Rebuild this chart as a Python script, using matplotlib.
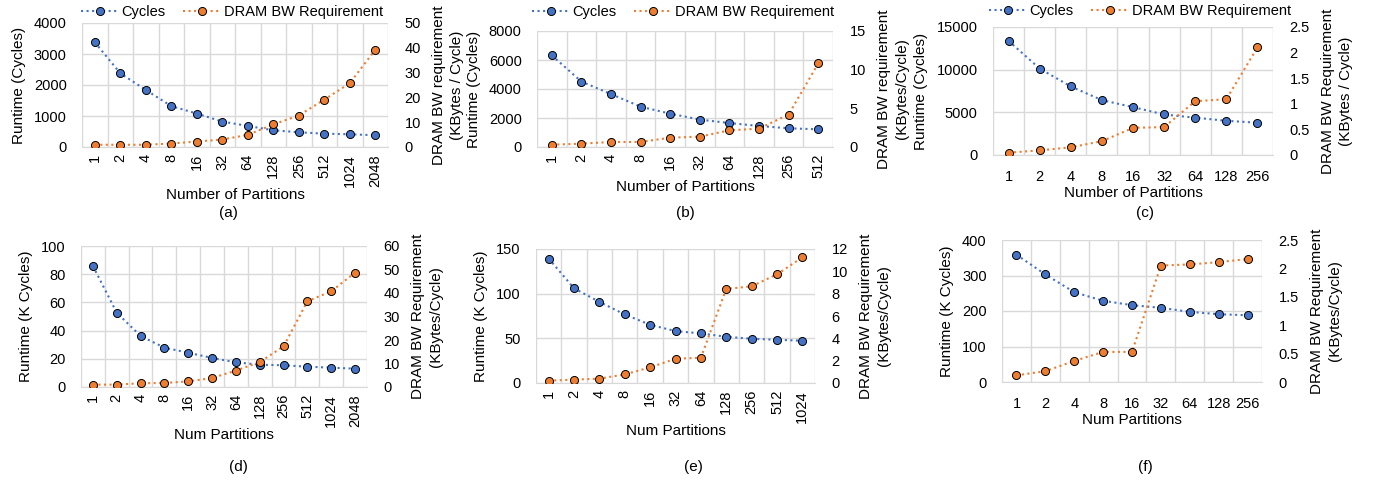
import numpy as np
import matplotlib
matplotlib.use("Agg")
import matplotlib.pyplot as plt
from matplotlib.ticker import FuncFormatter

plt.rcParams['font.family'] = ['Liberation Sans', 'DejaVu Sans']
plt.rcParams['font.size'] = 10

# datos
parts_a = ['1', '2', '4', '8', '16', '32', '64', '128', '256', '512', '1024', '2048']
cyc_a = [3380, 2380, 1840, 1320, 1080, 820, 680, 540, 475, 430, 410, 380]
bw_a = [0.9, 0.9, 0.9, 1.4, 2.2, 3.0, 4.9, 9.1, 12.7, 19.1, 25.7, 39.2]

parts_b = ['1', '2', '4', '8', '16', '32', '64', '128', '256', '512']
cyc_b = [6320, 4510, 3650, 2780, 2300, 1890, 1650, 1450, 1290, 1220]
bw_b = [0.3, 0.43, 0.65, 0.65, 1.2, 1.34, 2.16, 2.37, 4.2, 10.8]

parts_c = ['1', '2', '4', '8', '16', '32', '64', '128', '256']
cyc_c = [13370, 10130, 8030, 6430, 5610, 4750, 4370, 4010, 3780]
bw_c = [0.045, 0.09, 0.15, 0.27, 0.53, 0.545, 1.05, 1.09, 2.1]

parts_d = ['1', '2', '4', '8', '16', '32', '64', '128', '256', '512', '1024', '2048']
cyc_d = [85.8, 52.7, 36.2, 27.9, 24.3, 20.6, 17.5, 15.8, 15.4, 14.4, 13.7, 13.0]
bw_d = [1.0, 1.0, 1.6, 1.7, 2.4, 3.8, 7.0, 10.6, 17.3, 36.5, 40.7, 48.7]

parts_e = ['1', '2', '4', '8', '16', '32', '64', '128', '256', '512', '1024']
cyc_e = [139.3, 106, 90.8, 76.7, 65.2, 58.1, 55.5, 51.8, 49.5, 48.4, 47.3]
bw_e = [0.21, 0.3, 0.39, 0.77, 1.4, 2.17, 2.26, 8.42, 8.66, 9.73, 11.25]

parts_f = ['1', '2', '4', '8', '16', '32', '64', '128', '256']
cyc_f = [358.6, 303, 253, 228.7, 216.5, 209, 197.6, 191, 188]
bw_f = [0.118, 0.19, 0.37, 0.53, 0.53, 2.05, 2.07, 2.11, 2.165]

AZUL = '#4472C4'
NARANJA = '#ED7D31'
GRIS = '#D9D9D9'

W, H = 1375, 487
fig = plt.figure(figsize=(W / 100, H / 100), dpi=100)


def caja(l, r, t, b):
    return [l / W, (H - b) / H, (r - l) / W, (b - t) / H]


fmt = FuncFormatter(lambda v, p: '{:g}'.format(round(v, 6)))


def panel(pos, parts, cyc, bw, ymax, ystep, y2max, y2step, ylab, y2lab, xlab,
          rot, letra, letra_xy, leyenda=None):
    ax = fig.add_axes(pos)
    ax2 = ax.twinx()
    x = np.arange(len(parts))
    l1, = ax.plot(x, cyc, ':', color=AZUL, lw=1.5, marker='o', ms=5.8,
                  mfc=AZUL, mec='black', mew=0.7, label='Cycles')
    l2, = ax2.plot(x, bw, ':', color=NARANJA, lw=1.5, marker='o', ms=5.8,
                   mfc=NARANJA, mec='black', mew=0.7, label='DRAM BW Requirement')
    ax.set_xlim(-0.5, len(parts) - 0.5)
    ax.set_ylim(0, ymax)
    ax2.set_ylim(0, y2max)
    ax.set_yticks(np.arange(0, ymax + ystep / 2, ystep))
    ax2.set_yticks(np.arange(0, y2max + y2step / 2, y2step))
    ax.yaxis.set_major_formatter(fmt)
    ax2.yaxis.set_major_formatter(fmt)
    ax.set_xticks(x)
    ax.set_xticklabels(parts, rotation=rot)
    ax.set_xticks(np.arange(-0.5, len(parts), 1), minor=True)
    ax.grid(True, which='minor', axis='x', color=GRIS, lw=1)
    ax.grid(True, which='major', axis='y', color=GRIS, lw=1)
    ax.set_axisbelow(True)
    for a in (ax, ax2):
        for s in a.spines.values():
            s.set_visible(False)
        a.tick_params(length=0, which='both', labelsize=10.5)
    ax.tick_params(axis='y', pad=11)
    ax2.tick_params(axis='y', pad=12)
    ax.tick_params(axis='x', pad=5 if rot else 11)
    ax.spines['bottom'].set_visible(True)
    ax.spines['bottom'].set_color(GRIS)
    ax.set_ylabel(ylab, fontsize=11, labelpad=6)
    ax2.set_ylabel(y2lab, fontsize=11, labelpad=8, linespacing=1.35)
    ax.set_xlabel(xlab, fontsize=11, labelpad=1)
    fig.text(letra_xy[0] / W, 1 - letra_xy[1] / H, letra, ha='center',
             va='center', fontsize=11)
    if leyenda is not None:
        ax.legend([l1, l2], ['Cycles', 'DRAM BW Requirement'], loc='center',
                  bbox_to_anchor=(leyenda[0] / W, 1 - leyenda[1] / H),
                  bbox_transform=fig.transFigure, ncol=2, frameon=False,
                  fontsize=10.5, handlelength=2.6, columnspacing=1.2,
                  handletextpad=0.2)
    return ax


panel(caja(82, 388, 23, 147), parts_a, cyc_a, bw_a, 4000, 1000, 50, 10,
      'Runtime (Cycles)', 'DRAM BW requirement\n(KBytes / Cycle)',
      'Number of Partitions', 90, '(a)', (228, 213), leyenda=(232, 12))
panel(caja(537, 833, 31, 147), parts_b, cyc_b, bw_b, 8000, 2000, 15, 5,
      'Runtime (Cycles)', 'DRAM BW requirement\n(KBytes/Cycle)',
      'Number of Partitions', 90, '(b)', (685, 213), leyenda=(683, 12))
panel(caja(993, 1273, 27, 155), parts_c, cyc_c, bw_c, 15000, 5000, 2.5, 0.5,
      'Runtime (Cycles)', 'DRAM BW Requirement\n(KBytes / Cycle)',
      'Number of Partitions', 0, '(c)', (1145, 213), leyenda=(1140, 11))
panel(caja(81, 367, 246, 387), parts_d, cyc_d, bw_d, 100, 20, 60, 10,
      'Runtime (K Cycles)', 'DRAM BW Requirement\n(KBytes/Cycle)',
      'Num Partitions', 90, '(d)', (238, 467))
panel(caja(536, 815, 249, 383), parts_e, cyc_e, bw_e, 150, 50, 12, 2,
      'Runtime (K Cycles)', 'DRAM BW Requirement\n(KBytes/Cycle)',
      'Num Partitions', 90, '(e)', (693, 467))
panel(caja(1002, 1262, 240, 382), parts_f, cyc_f, bw_f, 400, 100, 2.5, 0.5,
      'Runtime (K Cycles)', 'DRAM BW Requirement\n(KBytes/Cycle)',
      'Num Partitions', 0, '(f)', (1145, 467))

fig.savefig('out.png', dpi=100)
